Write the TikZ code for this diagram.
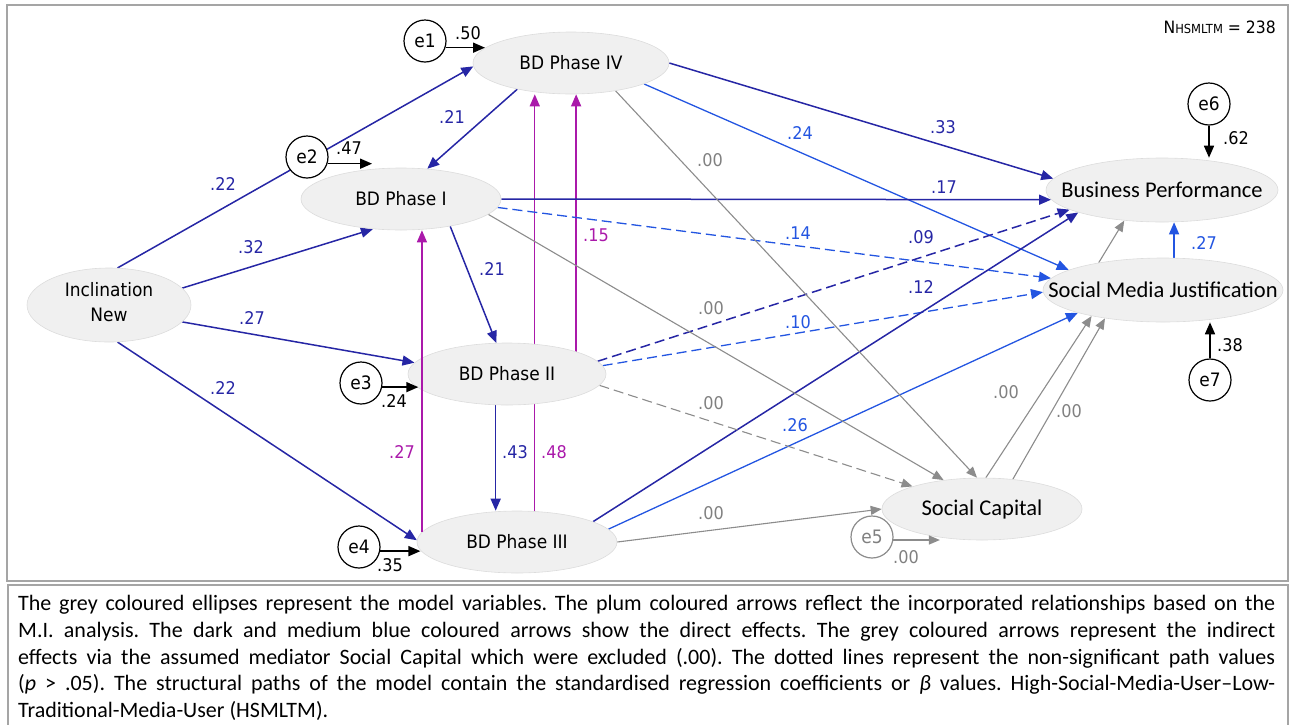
\documentclass[tikz,border=0pt]{standalone}
\usepackage{fontspec}
\setmainfont{Carlito}
\newfontfamily\tah[FakeStretch=0.92]{DejaVu Sans}
\usetikzlibrary{arrows.meta,shapes.geometric}
\pgfdeclarelayer{background}
\pgfsetlayers{background,main}
\definecolor{dkblue}{RGB}{38,38,165}
\definecolor{mdblue}{RGB}{35,85,225}
\definecolor{plum}{RGB}{170,25,170}
\definecolor{grline}{RGB}{140,140,140}
\definecolor{grtext}{RGB}{128,128,128}
\definecolor{ellfill}{RGB}{240,240,240}
\definecolor{ellline}{RGB}{220,220,220}
\definecolor{framec}{RGB}{165,165,165}
\newcommand{\vlab}[1]{\makebox[0pt][c]{#1}}
\newcommand{\capspacing}{\frenchspacing\spaceskip=0.226em plus 0.6em minus 0.2em\relax}
\begin{document}
\begin{tikzpicture}[x=1pt,y=-1pt,
  var/.style={ellipse, fill=ellfill, draw=ellline, line width=0.6pt, inner sep=0pt},
  tahvar/.style={var, font=\tah\fontsize{18.5}{22}\selectfont},
  calvar/.style={var, font=\fontsize{22.5}{26}\selectfont},
  errc/.style={circle, draw=black, line width=1.2pt, fill=white, minimum size=42pt,
    inner sep=0pt, font=\tah\fontsize{18.5}{22}\selectfont},
  lab/.style={inner sep=0pt, font=\tah\fontsize{17.5}{20}\selectfont},
  tipA/.style={-{Triangle[length=12pt,width=10pt]}},
  tipB/.style={-{Triangle[length=11pt,width=9pt]}},
  dk/.style={draw=dkblue, line width=1.5pt, tipA},
  md/.style={draw=mdblue, line width=1.3pt, tipA},
  pl/.style={draw=plum, line width=1.3pt, tipA},
  gr/.style={draw=grline, line width=1.1pt, tipB},
  bk/.style={draw=black, line width=1.6pt, tipA},
  dsh/.style={dash pattern=on 10pt off 5pt},
  frame/.style={draw=framec, line width=1.6pt}]
\useasboundingbox (0,0) rectangle (1294,724);

% model variables
\node[tahvar, minimum width=196pt, minimum height=62pt] (bd4) at (571,63) {\vlab{BD Phase IV}};
\node[tahvar, minimum width=200pt, minimum height=62pt] (bd1) at (401,199) {\vlab{BD Phase I}};
\node[tahvar, minimum width=164pt, minimum height=74pt] (incl) at (109,305)
  {\vlab{\begin{tabular}{@{}c@{}}Inclination\\[3pt]New\end{tabular}}};
\node[tahvar, minimum width=198pt, minimum height=62pt] (bd2) at (507,374) {\vlab{BD Phase II}};
\node[tahvar, minimum width=200pt, minimum height=62pt] (bd3) at (517,542) {\vlab{BD Phase III}};
\node[calvar, minimum width=232pt, minimum height=64pt] (bp) at (1162,190) {\vlab{Business Performance}};
\node[calvar, minimum width=240pt, minimum height=64pt] (smj) at (1163,290) {\vlab{Social Media Justification}};
\node[calvar, minimum width=200pt, minimum height=62pt] (sc) at (982,509) {\vlab{Social Capital}};

% error terms
\node[errc] (e1) at (425,41) {e1};
\node[errc] (e2) at (307,157) {e2};
\node[errc] (e3) at (361,383) {e3};
\node[errc] (e4) at (359,547) {e4};
\node[errc, draw=grline, text=grtext] (e5) at (872,537) {e5};
\node[errc] (e6) at (1209,104) {e6};
\node[errc] (e7) at (1210,380) {e7};

% sample size
\node[inner sep=0pt, anchor=east, font=\tah\fontsize{17}{20}\selectfont] (nsize) at (1276,27)
  {N{\fontsize{12.5}{14}\selectfont HSMLTM} = 238};

\begin{pgfonlayer}{background}
\draw[frame] (7,5) rectangle (1288,581);
\draw[frame] (8,585) rectangle (1288,740);
% paths from Inclination New
\draw[dk] (incl.77) -- (bd4.182);
\draw[dk] (incl.13) -- (bd1.227);
\draw[dk] (incl.-13) -- (bd2.173);
\draw[dk] (incl.-77) -- (bd3.179);
% paths between the BD phases
\draw[dk] (bd4.206) -- (bd1.49);
\draw[dk] (bd1.-29) -- (bd2.109);
\draw[dk] (bd2.250) -- (bd2.250 |- bd3.north);
\draw[pl] (bd3.60) -- (bd3.60 |- bd4.south);
\draw[pl] (bd2.18) -- (bd2.18 |- bd4.south);
% direct effects on the outcomes
\draw[dk] (bd4.0) -- (bp.174);
\draw[md] (bd4.-16) -- (smj.168);
\draw[dk] (bd1.east) -- (bp.185);
\draw[md,dsh] (bd1.-5) -- (smj.174);
\draw[dk,dsh] (bd2.8) -- (bp.192);
\draw[md,dsh] (bd2.5) -- (smj.181);
\draw[dk] (bd3.15) -- (bp.195);
\draw[md] (bd3.8) -- (smj.195);
\draw[md] (smj.71) -- (smj.71 |- bp.south);
% indirect effects via Social Capital
\draw[gr] (bd4.-32) -- (sc.99);
\draw[gr] (bd1.-10) -- (sc.143);
\draw[gr,dsh] (bd2.-7) -- (sc.162);
\draw[gr] (bd3.0) -- (sc.180);
\draw[gr] (sc.83) -- (smj.200);
\draw[gr] (sc.44) -- (smj.206);
\draw[gr] (smj.157) -- (bp.219);
\end{pgfonlayer}

% modification path drawn over BD Phase II
\draw[pl] (bd3.174.8) -- (bd3.174.8 |- bd1.south);

% error arrows
\draw[bk] (e1.-18) -- (e1.-18 -| bd4.170);
\draw[bk] (e2.-18) -- (e2.-18 -| bd1.134);
\draw[bk] (e3.-11) -- (e3.-11 -| bd2.189);
\draw[bk] (e4.-11) -- (e4.-11 -| bd3.185);
\draw[gr, line width=1.4pt] (e5.-8) -- (e5.-8 -| sc.214);
\draw[bk] (e6.south) -- (e6.south |- bp.north);
\draw[bk] (e7.north) -- (e7.north |- smj.south);

% coefficients
\node[lab] (v1) at (468,33) {.50};
\node[lab] (v2) at (349,148) {.47};
\node[lab] (v3) at (394,401) {.24};
\node[lab] (v4) at (390,565) {.35};
\node[lab] (v6) at (1236,138) {.62};
\node[lab] (v7) at (1230,345) {.38};
\node[lab, text=grtext] (v5) at (906,557) {.00};
\node[lab, text=dkblue] (c1) at (223,184) {.22};
\node[lab, text=dkblue] (c2) at (251,247) {.32};
\node[lab, text=dkblue] (c3) at (452,117) {.21};
\node[lab, text=dkblue] (c4) at (492,269) {.21};
\node[lab, text=dkblue] (c5) at (252,318) {.27};
\node[lab, text=dkblue] (c6) at (223,388) {.22};
\node[lab, text=plum] (c7) at (402,452) {.27};
\node[lab, text=dkblue] (c8) at (515,452) {.43};
\node[lab, text=plum] (c9) at (554,452) {.48};
\node[lab, text=plum] (c10) at (596,235) {.15};
\node[lab, text=grtext] (c11) at (710,160) {.00};
\node[lab, text=mdblue] (c12) at (800,133) {.24};
\node[lab, text=dkblue] (c13) at (943,127) {.33};
\node[lab, text=dkblue] (c14) at (944,187) {.17};
\node[lab, text=mdblue] (c15) at (798,233) {.14};
\node[lab, text=dkblue] (c16) at (921,237) {.09};
\node[lab, text=grtext] (c17) at (711,308) {.00};
\node[lab, text=dkblue] (c18) at (921,287) {.12};
\node[lab, text=mdblue] (c19) at (798,322) {.10};
\node[lab, text=grtext] (c20) at (711,403) {.00};
\node[lab, text=mdblue] (c21) at (795,425) {.26};
\node[lab, text=grtext] (c22) at (1006,392) {.00};
\node[lab, text=grtext] (c23) at (1069,411) {.00};
\node[lab, text=grtext] (c24) at (711,513) {.00};
\node[lab, text=mdblue] (c25) at (1204,243) {.27};

% caption
\node[anchor=north west, inner sep=0pt, text width=1257pt, align=justify,
  font=\fontsize{22}{26.8}\selectfont] (caption) at (18,595)
{\capspacing The grey coloured ellipses represent the model variables. The plum coloured arrows reflect the incorporated relationships based on the\linebreak
M.I. analysis. The dark and medium blue coloured arrows show the direct effects. The grey coloured arrows represent the indirect\linebreak
effects via the assumed mediator Social Capital which were excluded (.00). The dotted lines represent the non-significant path values\linebreak
(\textit{p} > .05). The structural paths of the model contain the standardised regression coefficients or \textit{β} values. High-Social-Media-User–Low-\linebreak
Traditional-Media-User (HSMLTM).};
\end{tikzpicture}
\end{document}
